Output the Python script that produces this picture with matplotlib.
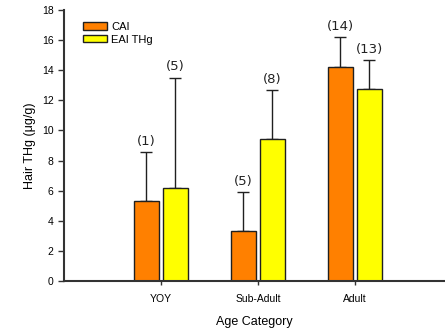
import matplotlib
matplotlib.use("Agg")
import matplotlib.pyplot as plt
import numpy as np

categories = ["YOY", "Sub-Adult", "Adult"]
cai_means = [5.3, 3.35, 14.2]
cai_err = [3.25, 2.55, 2.0]
eai_means = [6.2, 9.42, 12.72]
eai_err = [7.28, 3.26, 1.95]
cai_n = ["(1)", "(5)", "(14)"]
eai_n = ["(5)", "(8)", "(13)"]

plt.rcParams['font.family'] = ['Liberation Sans', 'DejaVu Sans']

fig = plt.figure(figsize=(4.45, 3.31), dpi=100)
ax = fig.add_axes([0.1438, 0.151, 0.8562, 0.819])

x = np.arange(1, len(categories) + 1)
w = 0.26
off = 0.15
ax.bar(x - off, cai_means, w, color="#ff8000", edgecolor="#202020", linewidth=1.0,
       label="CAI", zorder=2)
ax.bar(x + off, eai_means, w, color="#ffff00", edgecolor="#202020", linewidth=1.0,
       label="EAI THg", zorder=2)
ax.errorbar(x - off, cai_means, yerr=[np.zeros(3), cai_err], fmt="none",
            ecolor="#202020", elinewidth=1.0, capsize=4, capthick=1.0, zorder=1)
ax.errorbar(x + off, eai_means, yerr=[np.zeros(3), eai_err], fmt="none",
            ecolor="#202020", elinewidth=1.0, capsize=4, capthick=1.0, zorder=1)

for xi, m, e, t in zip(x - off, cai_means, cai_err, cai_n):
    ax.text(xi, m + e + 0.3, t, ha="center", va="bottom", fontsize=9.5,
            family=["DejaVu Sans"], color="#222222")
for xi, m, e, t in zip(x + off, eai_means, eai_err, eai_n):
    ax.text(xi, m + e + 0.3, t, ha="center", va="bottom", fontsize=9.5,
            family=["DejaVu Sans"], color="#222222")

ax.set_xlim(0, 3.93)
ax.set_ylim(0, 18)
ax.set_yticks(range(0, 19, 2))
ax.set_xticks(x)
ax.set_xticklabels(categories, fontsize=7.5)
ax.tick_params(axis="y", labelsize=7.5, length=4, width=1, color="#333333")
ax.tick_params(axis="x", length=3, width=1, color="#333333", pad=6)
for s in ["top", "right"]:
    ax.spines[s].set_visible(False)
for s in ["left", "bottom"]:
    ax.spines[s].set_linewidth(1.5)
    ax.spines[s].set_color("#333333")

ax.set_xlabel("Age Category", fontsize=9, labelpad=9)
ax.set_ylabel("Hair THg (\u03bcg/g)", fontsize=9, labelpad=4)

leg = ax.legend(loc="upper left", bbox_to_anchor=(0.05, 0.956), frameon=False,
                fontsize=8, handlelength=2.16, handleheight=0.63, labelspacing=0.26,
                handletextpad=0.36, borderaxespad=0, borderpad=0)

fig.savefig("out.png", dpi=100)
